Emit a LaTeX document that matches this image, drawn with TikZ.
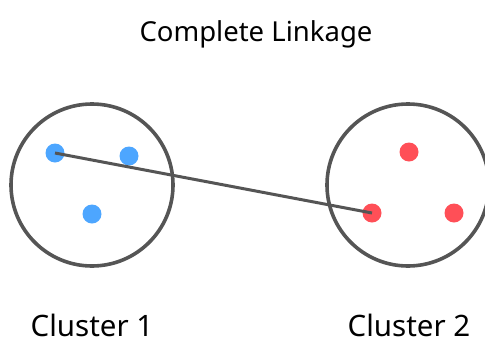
\documentclass[tikz,border=0pt]{standalone}
\usepackage{fontspec}
\setmainfont{Noto Sans}
\definecolor{randgrau}{HTML}{555555}
\definecolor{punktblau}{HTML}{4DA6FF}
\definecolor{punktrot}{HTML}{FF4F57}

\begin{document}
\begin{tikzpicture}[x=1pt,y=-1pt,
  punkt/.style={circle,inner sep=0pt,minimum size=19pt},
  cluster/.style={draw=randgrau,line width=3.6pt},
  beschriftung/.style={anchor=base,inner sep=0pt,font=\fontsize{29.5}{32}\selectfont}]

\useasboundingbox (0,0) rectangle (485,338);

% Ueberschrift
\node[anchor=base,inner sep=0pt,font=\fontsize{27.5}{30}\selectfont] (titel) at (256,41) {Complete Linkage};

% Cluster 1
\draw[cluster] (92,185) circle[radius=81];
\node[punkt,fill=punktblau] (b1) at (55,153) {};
\node[punkt,fill=punktblau] (b2) at (129,156) {};
\node[punkt,fill=punktblau] (b3) at (92,214) {};
\node[beschriftung] (name1) at (92,336) {Cluster 1};

% Cluster 2
\draw[cluster] (408,185) circle[radius=81];
\node[punkt,fill=punktrot] (r1) at (409,152) {};
\node[punkt,fill=punktrot] (r2) at (372,213) {};
\node[punkt,fill=punktrot] (r3) at (454,213) {};
\node[beschriftung] (name2) at (409,336) {Cluster 2};

% groesster Abstand
\draw[randgrau,line width=3pt] (b1.center)--(r2.center);

\end{tikzpicture}
\end{document}
